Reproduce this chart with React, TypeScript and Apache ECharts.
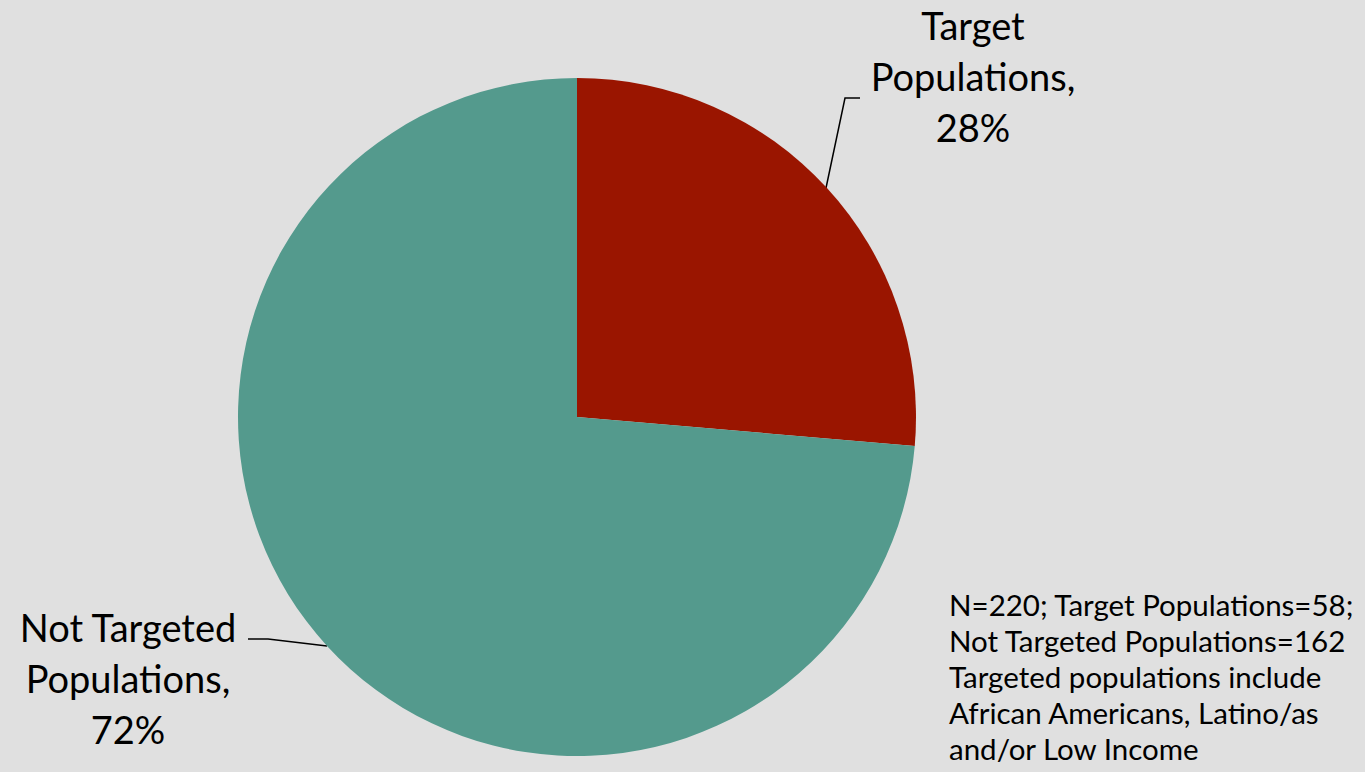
import React, { useEffect, useRef } from "react";
import * as echarts from "echarts";

const categories = ["Target Populations", "Not Targeted Populations"];
const labelNames = ["Target\nPopulations,", "Not Targeted\nPopulations,"];
const counts = [58, 162];
const percentLabels = ["28%", "72%"];
const noteLines = [
  "N=220; Target Populations=58;",
  "Not Targeted Populations=162",
  "Targeted populations include",
  "African Americans, Latino/as",
  "and/or Low Income",
];

const FONT = "Lato";

export default function App() {
  const ref = useRef<HTMLDivElement>(null);
  useEffect(() => {
    if (!ref.current) return;
    const chart = echarts.init(ref.current, null, { renderer: "svg" });
    const labelPos = [
      { x: 973, y: 76, line: [[826, 188], [845, 98], [860, 98]] },
      { x: 128, y: 678, line: [[327, 646], [268, 639], [248, 639]] },
    ];
    chart.setOption({
      animation: false,
      backgroundColor: "#E0E0E0",
      series: [
        {
          type: "pie",
          center: [577, 417],
          radius: [0, 339],
          startAngle: 90,
          clockwise: true,
          silent: true,
          itemStyle: { borderWidth: 0 },
          data: categories.map((c, i) => ({
            name: c,
            value: counts[i],
            itemStyle: { color: i === 0 ? "#9A1500" : "#549A8D" },
          })),
          label: {
            show: true,
            formatter: (p: any) => labelNames[p.dataIndex] + "\n" + percentLabels[p.dataIndex],
            fontFamily: FONT,
            fontSize: 38,
            lineHeight: 51,
            color: "#000",
            align: "center",
          },
          labelLine: {
            show: true,
            lineStyle: { color: "#000", width: 1.5 },
          },
          labelLayout: (params: any) => {
            const lp = labelPos[params.dataIndex];
            return {
              x: lp.x,
              y: lp.y,
              align: "center",
              verticalAlign: "middle",
              labelLinePoints: lp.line,
            };
          },
        },
      ],
      graphic: [
        {
          type: "text",
          left: 949,
          top: 586,
          style: {
            text: noteLines.join("\n"),
            fontFamily: FONT,
            fontSize: 29.5,
            lineHeight: 36,
            fill: "#000",
          },
        },
      ],
    });
    return () => chart.dispose();
  }, []);
  return (
    <div
      ref={ref}
      style={{ position: "fixed", left: 0, top: 0, width: 1365, height: 772 }}
    />
  );
}
